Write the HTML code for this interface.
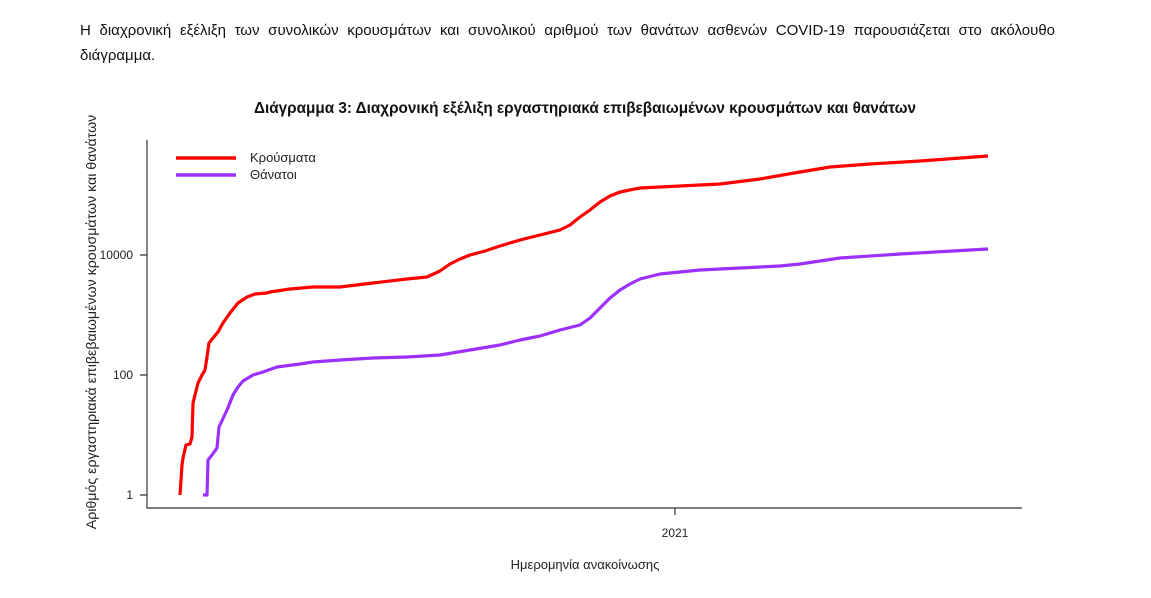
<!DOCTYPE html>
<html><head><meta charset="utf-8"><style>
body{margin:0;background:#fff;width:1151px;height:598px;overflow:hidden;font-family:"Liberation Sans","DejaVu Sans",sans-serif;}
.p{position:absolute;left:80px;top:18px;width:975px;font-size:15px;line-height:25px;color:#111;text-align:justify;text-align-last:left;}
</style></head><body>
<div class="p">Η διαχρονική εξέλιξη των συνολικών κρουσμάτων και συνολικού αριθμού των θανάτων ασθενών COVID-19 παρουσιάζεται στο ακόλουθο διάγραμμα.</div>
<svg width="1151" height="598" style="position:absolute;left:0;top:0" font-family="Liberation Sans, DejaVu Sans, sans-serif">
<text x="585" y="113" text-anchor="middle" font-size="15.3" font-weight="bold" fill="#111">Διάγραμμα 3: Διαχρονική εξέλιξη εργαστηριακά επιβεβαιωμένων κρουσμάτων και θανάτων</text>
<g stroke="#333" stroke-width="1.2" fill="none">
<path d="M147,140V508H1022"/>
<path d="M140,255H147M140,375H147M140,495H147M675,508V515"/>
</g>
<g font-size="12" fill="#222">
<text x="133" y="259" text-anchor="end">10000</text>
<text x="133" y="379" text-anchor="end">100</text>
<text x="133" y="499" text-anchor="end">1</text>
<text x="675" y="537" text-anchor="middle">2021</text>
<text x="585" y="569" text-anchor="middle" font-size="13">Ημερομηνία ανακοίνωσης</text>
<text transform="translate(96,322) rotate(-90)" text-anchor="middle" font-size="14.2">Αριθμός εργαστηριακά επιβεβαιωμένων κρουσμάτων και θανάτων</text>
<text x="250" y="162" font-size="13">Κρούσματα</text>
<text x="250" y="179" font-size="13">Θάνατοι</text>
</g>
<path d="M176,158H236" stroke="#f00" stroke-width="3.5"/>
<path d="M176,175H236" stroke="#9b30ff" stroke-width="3.5"/>
<polyline fill="none" stroke="#f00" stroke-width="3.2" stroke-linejoin="round" points="180,495 182,465 183,458 186,445 190,444 192,437 193,403 195,395 198,383 202,375 205,370 207,357 209,343 213,338 218,332 223,323 230,313 238,303 247,297 255,294 267,293 270,292 290,289 313,287 340,287 373,283 407,279 427,277 440,271 450,264 460,259 470,255 485,251 500,246 520,240 540,235 560,230 570,225 580,217 590,210 600,202 610,196 620,192 640,188 680,186 720,184 760,179 800,172 830,167 870,164 920,161 988,156"/>
<polyline fill="none" stroke="#9b30ff" stroke-width="3.2" stroke-linejoin="round" points="203,495 207,495 208,460 212,455 217,448 219,427 227,410 233,395 238,387 243,381 253,375 263,372 277,367 300,364 313,362 340,360 373,358 407,357 440,355 470,350 500,345 520,340 540,336 560,330 580,325 590,318 600,308 610,298 620,290 630,284 640,279 660,274 700,270 780,266 800,264 840,258 900,254 988,249"/>
</svg>
</body></html>
